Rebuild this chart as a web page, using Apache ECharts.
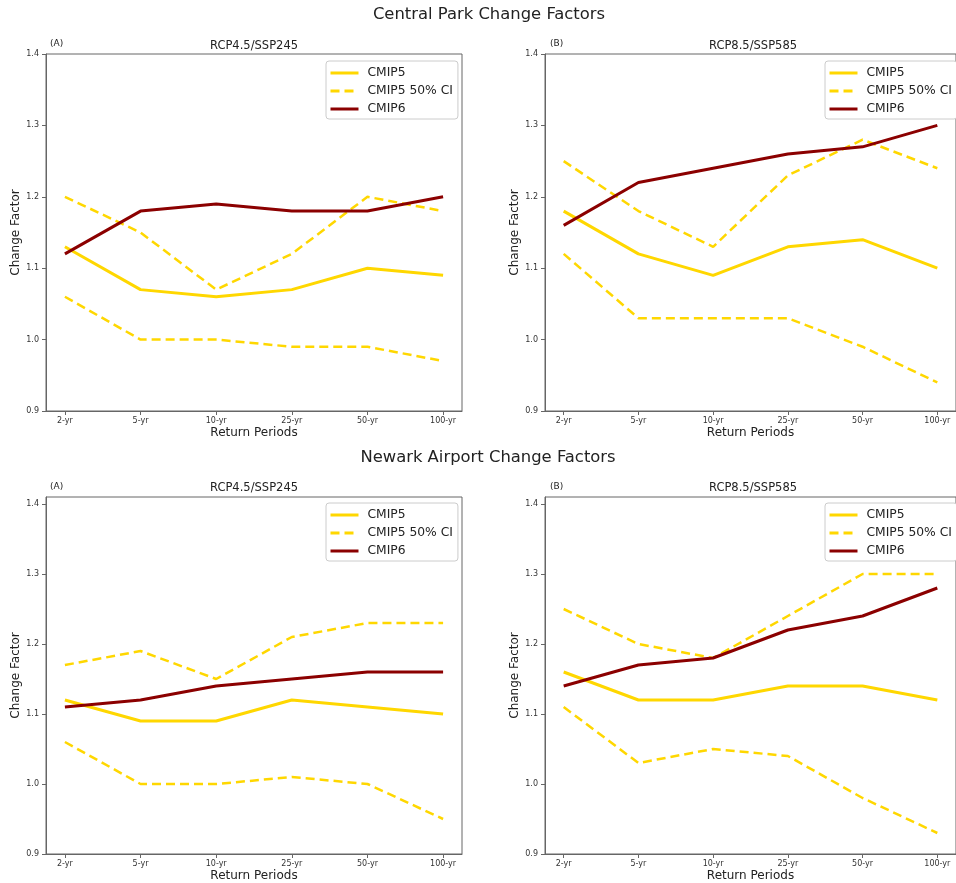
<!DOCTYPE html>
<html>
<head>
<meta charset="utf-8">
<script src="https://cdn.jsdelivr.net/npm/echarts@6/dist/echarts.min.js"></script>
<style>
  html, body { margin: 0; padding: 0; background: #fff; }
  #main { width: 956px; height: 883px; }
</style>
</head>
<body>
<div id="main"></div>
<script>
// return periods on the x axis
const periods = ['2-yr', '5-yr', '10-yr', '25-yr', '50-yr', '100-yr'];
const yTicks = [0.9, 1.0, 1.1, 1.2, 1.3, 1.4];

// Central Park, RCP4.5/SSP245
const cp45Cmip5 = [1.13, 1.07, 1.06, 1.07, 1.10, 1.09];
const cp45Upper = [1.20, 1.15, 1.07, 1.12, 1.20, 1.18];
const cp45Lower = [1.06, 1.00, 1.00, 0.99, 0.99, 0.97];
const cp45Cmip6 = [1.12, 1.18, 1.19, 1.18, 1.18, 1.20];

// Central Park, RCP8.5/SSP585
const cp85Cmip5 = [1.18, 1.12, 1.09, 1.13, 1.14, 1.10];
const cp85Upper = [1.25, 1.18, 1.13, 1.23, 1.28, 1.24];
const cp85Lower = [1.12, 1.03, 1.03, 1.03, 0.99, 0.94];
const cp85Cmip6 = [1.16, 1.22, 1.24, 1.26, 1.27, 1.30];

// Newark Airport, RCP4.5/SSP245
const nw45Cmip5 = [1.12, 1.09, 1.09, 1.12, 1.11, 1.10];
const nw45Upper = [1.17, 1.19, 1.15, 1.21, 1.23, 1.23];
const nw45Lower = [1.06, 1.00, 1.00, 1.01, 1.00, 0.95];
const nw45Cmip6 = [1.11, 1.12, 1.14, 1.15, 1.16, 1.16];

// Newark Airport, RCP8.5/SSP585
const nw85Cmip5 = [1.16, 1.12, 1.12, 1.14, 1.14, 1.12];
const nw85Upper = [1.25, 1.20, 1.18, 1.24, 1.30, 1.30];
const nw85Lower = [1.11, 1.03, 1.05, 1.04, 0.98, 0.93];
const nw85Cmip6 = [1.14, 1.17, 1.18, 1.22, 1.24, 1.28];

const panels = [
    { data: [cp45Cmip5, cp45Upper, cp45Lower, cp45Cmip6], left: 46, top: 54, yMax: 1.4 },
    { data: [cp85Cmip5, cp85Upper, cp85Lower, cp85Cmip6], left: 545, top: 54, yMax: 1.4 },
    { data: [nw45Cmip5, nw45Upper, nw45Lower, nw45Cmip6], left: 46, top: 497, yMax: 1.41 },
    { data: [nw85Cmip5, nw85Upper, nw85Lower, nw85Cmip6], left: 545, top: 497, yMax: 1.41 }
];

const gold = '#FFD700';
const darkRed = '#8B0000';
const frame = '#666';
const font = 'DejaVu Sans';

let chart = echarts.init(document.getElementById('main'));

let grids = [], xAxes = [], yAxes = [], series = [], legends = [];
panels.forEach(function (p, i) {
    grids.push({
        left: p.left, top: p.top, width: 416, height: 357,
        show: true, borderColor: frame, borderWidth: 1, backgroundColor: '#fff'
    });
    xAxes.push({
        gridIndex: i, type: 'value', min: -0.25, max: 5.25,
        name: 'Return Periods', nameLocation: 'middle', nameGap: 16,
        nameTextStyle: { fontFamily: font, fontSize: 12, color: '#222' },
        axisLine: { onZero: false, lineStyle: { color: frame } },
        axisTick: { length: 4, lineStyle: { color: frame }, customValues: [0, 1, 2, 3, 4, 5] },
        axisLabel: {
            customValues: [0, 1, 2, 3, 4, 5], margin: 6,
            fontFamily: font, fontSize: 8, color: '#333',
            formatter: function (v) { return periods[Math.round(v)]; }
        },
        splitLine: { show: false }
    });
    yAxes.push({
        gridIndex: i, type: 'value', min: 0.9, max: p.yMax,
        name: 'Change Factor', nameLocation: 'middle', nameGap: 24, nameRotate: 90,
        nameTextStyle: { fontFamily: font, fontSize: 12, color: '#222' },
        axisLine: { show: true, onZero: false, lineStyle: { color: frame } },
        axisTick: { show: true, length: 4, lineStyle: { color: frame }, customValues: yTicks },
        axisLabel: {
            customValues: yTicks, margin: 7,
            fontFamily: font, fontSize: 8, color: '#333',
            formatter: function (v) { return v.toFixed(1); }
        },
        splitLine: { show: false }
    });
    const names = ['CMIP5', 'CMIP5 50% CI', 'CMIP5 50% CI', 'CMIP6'];
    const colors = [gold, gold, gold, darkRed];
    const dashed = [false, true, true, false];
    p.data.forEach(function (vals, k) {
        series.push({
            name: names[k], type: 'line', xAxisIndex: i, yAxisIndex: i,
            symbol: 'none', silent: true,
            color: colors[k],
            lineStyle: { color: colors[k], width: dashed[k] ? 2.5 : 3, type: dashed[k] ? [9, 5] : 'solid' },
            data: vals.map(function (v, j) { return [j, v]; })
        });
    });
    legends.push({
        left: p.left + 280, top: p.top + (i < 2 ? 7 : 6),
        orient: 'vertical',
        data: ['CMIP5', 'CMIP5 50% CI', 'CMIP6'],
        itemWidth: 28, itemHeight: 14, itemGap: 6,
        padding: [6, 5, 4, 3],
        itemStyle: { opacity: 0 },
        lineStyle: { width: 3 },
        backgroundColor: '#fff', borderColor: '#ccc', borderWidth: 1, borderRadius: 3,
        textStyle: { fontFamily: font, fontSize: 12.3, color: '#222', padding: [2, 0, 2, 4] },
        selectedMode: false
    });
});

function label(text, x, y, size, align) {
    return {
        type: 'text', x: x, y: y, z: 10,
        style: {
            text: text, fontFamily: font, fontSize: size, fill: '#222',
            textAlign: align || 'center', textVerticalAlign: 'middle'
        }
    };
}

let option = {
    animation: false,
    backgroundColor: '#fff',
    grid: grids,
    xAxis: xAxes,
    yAxis: yAxes,
    legend: legends,
    series: series,
    graphic: [
        label('Central Park Change Factors', 489, 15, 16.4),
        label('Newark Airport Change Factors', 488, 458, 16.4),
        label('RCP4.5/SSP245', 254, 46, 11.5),
        label('RCP8.5/SSP585', 753, 46, 11.5),
        label('RCP4.5/SSP245', 254, 488, 11.5),
        label('RCP8.5/SSP585', 753, 488, 11.5),
        label('(A)', 50, 44, 9, 'left'),
        label('(B)', 550, 44, 9, 'left'),
        label('(A)', 50, 487, 9, 'left'),
        label('(B)', 550, 487, 9, 'left')
    ]
};
chart.setOption(option);
</script>
</body>
</html>
